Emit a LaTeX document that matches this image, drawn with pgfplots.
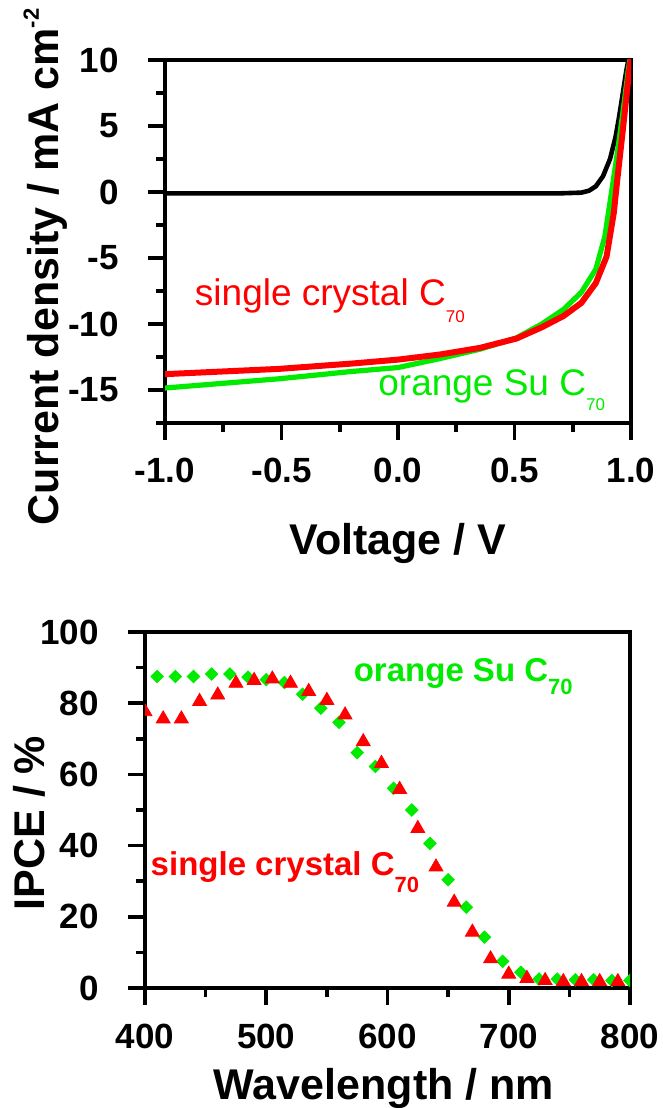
\documentclass[border=0pt]{standalone}
\usepackage{pgfplots}
\pgfplotsset{compat=1.18}
\usepackage{fontspec}
\setmainfont{Liberation Sans}
\definecolor{myred}{RGB}{255,0,0}
\definecolor{mygreen}{RGB}{0,235,0}
\pgfplotsset{
  common/.style={
    scale only axis, anchor=south west,
    axis line style={line width=1.8pt},
    tick align=outside, tick pos=left,
    major tick length=8.5pt, minor tick length=4.5pt,
    every tick/.append style={line width=1.8pt, black},
    tick label style={font=\fontsize{17.5}{17.5}\selectfont\bfseries},
    /pgf/number format/assume math mode=true,
    xticklabel style={anchor=base, inner sep=0pt, yshift=-21.5pt},
    yticklabel style={anchor=east, inner sep=0pt, xshift=-14.5pt},
    label style={font=\fontsize{21.5}{22}\selectfont\bfseries},
    clip marker paths=true,
  }
}
\begin{document}
\begin{tikzpicture}
\useasboundingbox (0,0) rectangle (331.5pt,554pt);
% ---------------- top: J-V ----------------
\begin{axis}[common,
  at={(82.5pt,342.5pt)}, width=233pt, height=181.5pt,
  xmin=-1, xmax=1, ymin=-17.5, ymax=10,
  xtick={-1,-0.5,0,0.5,1}, xticklabels={-1.0,-0.5,0.0,0.5,1.0},
  minor xtick={-0.75,-0.25,0.25,0.75},
  ytick={-15,-10,-5,0,5,10}, yticklabels={-15,-10,-5,0,5,10},
  minor ytick={-17.5,-12.5,-7.5,-2.5,2.5,7.5},
  xlabel={Voltage / V},
  ylabel={Current density / mA cm\raisebox{10pt}{\fontsize{11}{11}\selectfont -2}},
  xlabel style={at={(axis description cs:0.5,-0.3636)}, anchor=base},
  ylabel style={at={(axis description cs:-0.228,0.43)}, anchor=base},
]
\addplot[black, line width=2.3pt] coordinates {
(-1,-0.1) (0.70,-0.1) (0.787,-0.05) (0.82,0.1) (0.849,0.43) (0.88,1.2) (0.91,2.5)
(0.934,4.2) (0.949,5.7) (0.965,7.5) (0.98,9.2) (0.991,10.2)};
\addplot[mygreen, line width=2.6pt] coordinates {
(-1,-14.85) (-0.51,-14.15) (-0.2,-13.6) (0.0,-13.3) (0.185,-12.6) (0.354,-11.9)
(0.509,-11.05) (0.617,-10.0) (0.71,-8.9) (0.787,-7.6) (0.849,-5.85) (0.888,-3.35)
(0.918,0.18) (0.941,2.9) (0.965,6.0) (0.988,9.2) (0.997,10.2)};
\addplot[myred, line width=3pt] coordinates {
(-1,-13.8) (-0.51,-13.4) (-0.2,-13.0) (0.0,-12.7) (0.185,-12.3) (0.354,-11.8)
(0.509,-11.1) (0.617,-10.25) (0.71,-9.4) (0.787,-8.4) (0.849,-6.9) (0.895,-4.9)
(0.926,-1.6) (0.941,0.9) (0.965,4.7) (0.988,8.5) (1.0,10.2)};
\node[anchor=base west, inner sep=0pt, text=myred, font=\fontsize{18.5}{18.5}\selectfont]
  at (axis cs:-0.873,-8.6) {single crystal C\raisebox{-8.3pt}{\fontsize{8.5}{8.5}\selectfont 70}};
\node[anchor=base west, inner sep=0pt, text=mygreen, font=\fontsize{18.5}{18.5}\selectfont]
  at (axis cs:-0.086,-15.4) {orange Su C\raisebox{-7.5pt}{\fontsize{8.5}{8.5}\selectfont 70}};
\end{axis}
% ---------------- bottom: IPCE ----------------
\begin{axis}[common,
  at={(72.5pt,60pt)}, width=242.5pt, height=178pt,
  xmin=400, xmax=800, ymin=0, ymax=100,
  xtick={400,500,600,700,800}, minor xtick={450,550,650,750},
  ytick={0,20,40,60,80,100}, minor ytick={10,30,50,70,90},
  xlabel={Wavelength / nm}, ylabel={IPCE / \%},
  xlabel style={at={(axis description cs:0.4928,-0.3118)}, anchor=base},
  ylabel style={at={(axis description cs:-0.2062,0.4635)}, anchor=base},
]
\addplot[only marks, mark=square*, mark size=2.2pt, mark options={rotate=45, fill=mygreen, draw=mygreen}, color=mygreen] coordinates {
(410,87.5) (425,87.5) (440,87.5) (455,88.2) (470,88.2) (485,87.3) (500,86.6) (515,85.8)
(530,82.5) (545,78.6) (560,74.6) (575,66.1) (590,62.2) (605,56.1) (620,50.0) (635,40.6)
(650,30.4) (665,22.7) (680,14.3) (695,7.5) (710,4.4) (725,2.5) (740,2.5) (755,2.3)
(770,2.3) (785,2.1) (800,2.1)};
\addplot[only marks, mark=triangle*, mark size=4pt, mark options={fill=myred, draw=myred}, color=myred] coordinates {
(400,77.6) (415,75.6) (430,75.6) (445,80.5) (460,82.3) (475,85.6) (490,86.4) (505,86.8)
(520,85.6) (535,83.3) (550,80.8) (565,76.7) (580,69.2) (595,63.1) (610,55.8) (625,44.8)
(640,34.0) (655,24.1) (670,15.7) (685,8.2) (700,3.9) (715,2.7) (730,2.1) (745,1.8)
(760,1.8) (775,1.8) (790,1.8)};
\node[anchor=base west, inner sep=0pt, text=mygreen, font=\fontsize{16.5}{16.5}\selectfont\bfseries]
  at (axis cs:571.9,86.1) {orange Su C\raisebox{-6.7pt}{\fontsize{11}{11}\selectfont 70}};
\node[anchor=base west, inner sep=0pt, text=myred, font=\fontsize{16.5}{16.5}\selectfont\bfseries]
  at (axis cs:404.4,31.6) {single crystal C\raisebox{-8.4pt}{\fontsize{11}{11}\selectfont 70}};
\end{axis}
\end{tikzpicture}
\end{document}
